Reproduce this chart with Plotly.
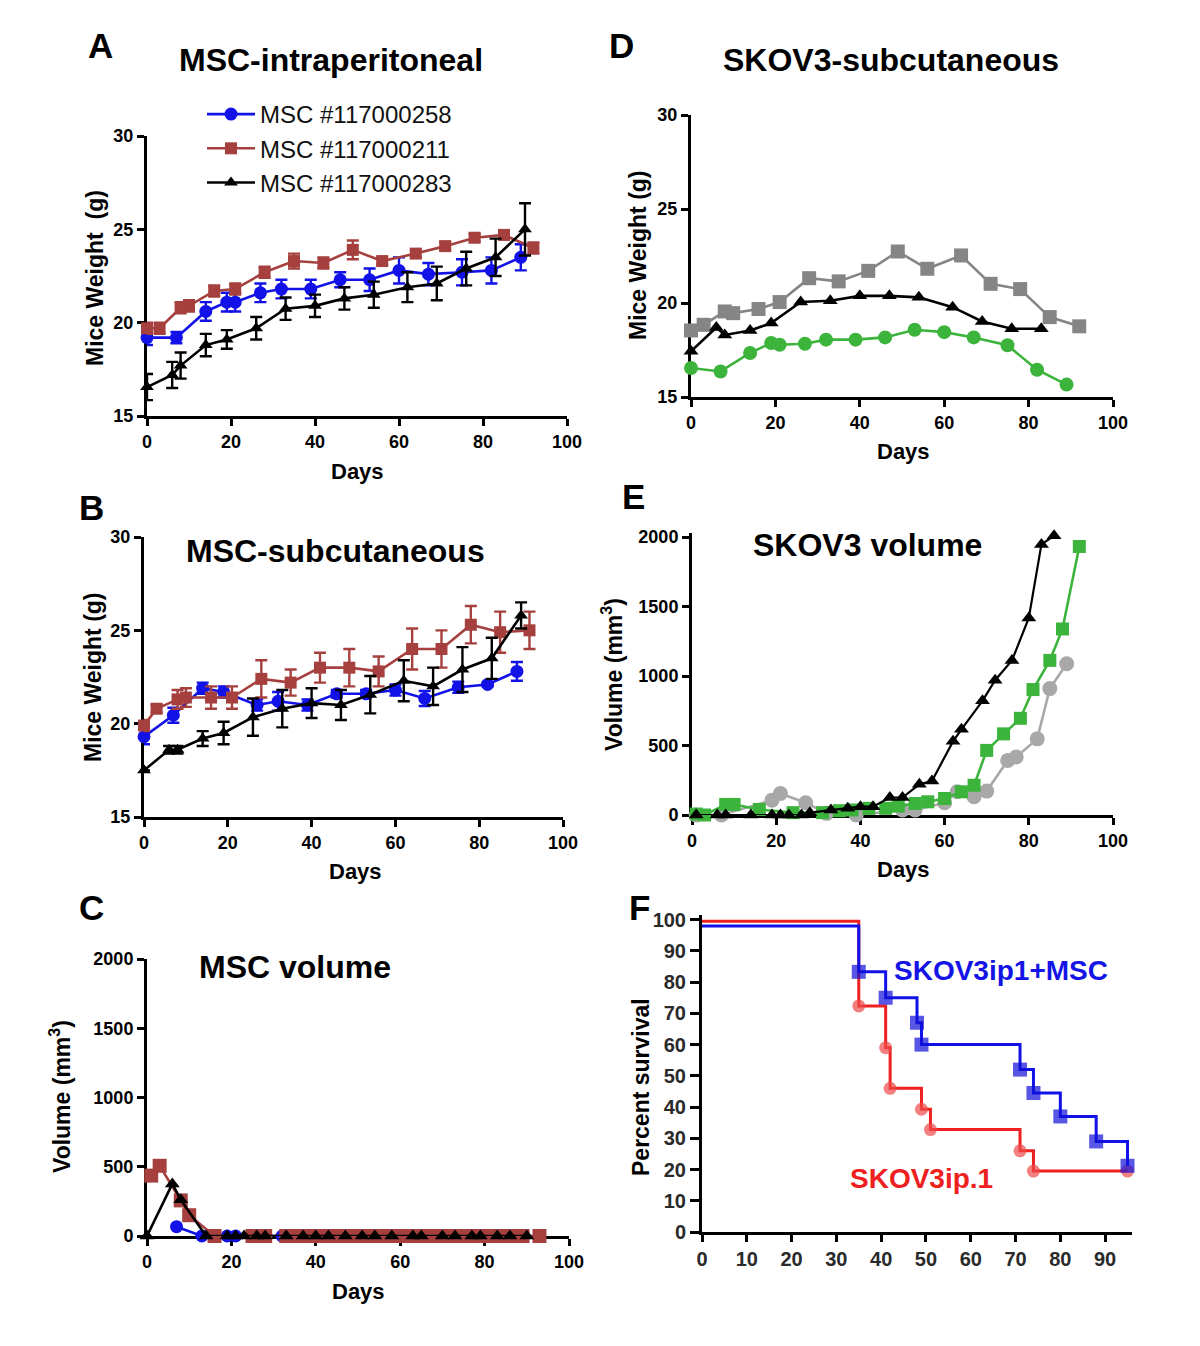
import plotly.graph_objects as go

W, H = 1200, 1346
PAGE_OFFSET = 8  # default body margin of the page

# ---------------- Panel A: MSC-intraperitoneal (weight, g) ----------------
A_blue_days = [0, 7, 14, 19, 21, 27, 32, 39, 46, 53, 60, 67, 75, 82, 89]
A_blue_w = [19.2, 19.2, 20.6, 21.1, 21.1, 21.6, 21.8, 21.8, 22.3, 22.3, 22.8, 22.6, 22.7, 22.8, 23.5]
A_blue_err = [0.4, 0.3, 0.5, 0.5, 0.5, 0.5, 0.5, 0.5, 0.4, 0.6, 0.7, 0.6, 0.7, 0.7, 0.7]

A_red_days = [0, 3, 8, 10, 16, 21, 28, 35, 42, 49, 56, 64, 71, 78, 85, 92]
A_red_w = [19.7, 19.7, 20.8, 20.9, 21.7, 21.8, 22.7, 23.3, 23.2, 23.9, 23.3, 23.7, 24.1, 24.55, 24.7, 24.0]
A_red_err = [0.3, 0.3, 0.3, 0.3, 0.3, 0.3, 0.3, 0.4, 0.3, 0.5, 0.2, 0.2, 0.2, 0.2, 0.2, 0.3]

A_blk_days = [0, 6, 8, 14, 19, 26, 33, 40, 47, 54, 62, 69, 76, 83, 90]
A_blk_w = [16.55, 17.2, 17.7, 18.8, 19.1, 19.7, 20.75, 20.9, 21.3, 21.5, 21.9, 22.1, 22.9, 23.5, 25.0]
A_blk_err = [0.7, 0.7, 0.7, 0.6, 0.5, 0.6, 0.6, 0.6, 0.6, 0.7, 0.8, 0.9, 0.9, 1.0, 1.4]

# ---------------- Panel B: MSC-subcutaneous (weight, g) ----------------
B_blue_days = [0, 7, 14, 19, 27, 32, 39, 46, 53, 60, 67, 75, 82, 89]
B_blue_w = [19.3, 20.45, 21.9, 21.7, 21.0, 21.2, 21.0, 21.6, 21.6, 21.8, 21.35, 21.95, 22.1, 22.8]
B_blue_err = [0.4, 0.4, 0.3, 0.3, 0.3, 0.5, 0.3, 0.2, 0.2, 0.3, 0.4, 0.3, 0.1, 0.5]

B_red_days = [0, 3, 8, 10, 16, 21, 28, 35, 42, 49, 56, 64, 71, 78, 85, 92]
B_red_w = [19.9, 20.8, 21.3, 21.4, 21.4, 21.4, 22.4, 22.2, 23.0, 23.0, 22.8, 24.0, 24.0, 25.3, 24.9, 25.0]
B_red_err = [0.3, 0.2, 0.5, 0.5, 0.6, 0.6, 1.0, 0.7, 0.8, 1.0, 0.8, 1.1, 1.0, 1.0, 1.1, 1.0]

B_blk_days = [0, 6, 8, 14, 19, 26, 33, 40, 47, 54, 62, 69, 76, 83, 90]
B_blk_w = [17.5, 18.6, 18.6, 19.2, 19.5, 20.35, 20.8, 21.1, 21.0, 21.55, 22.3, 22.0, 22.9, 23.5, 25.8]
B_blk_err = [0.0, 0.2, 0.2, 0.4, 0.6, 1.0, 1.0, 0.8, 0.8, 1.0, 1.1, 1.0, 1.2, 1.1, 0.7]

# ---------------- Panel C: MSC volume (mm3) ----------------
C_blue_days = [7, 13, 19, 21, 27, 32, 39, 46, 53, 61, 67, 75, 82, 89]
C_blue_vol = [67, 0, 0, 0, 0, 0, 0, 0, 0, 0, 0, 0, 0, 0]

C_red_days = [1, 3, 8, 10, 16, 25, 28, 33, 35, 37, 40, 42, 44, 47, 49, 51, 54, 56, 58,
              61, 63, 65, 68, 70, 72, 75, 77, 79, 82, 84, 86, 89, 93]
C_red_vol = [436, 507, 257, 150, 0, 0, 0, 0, 0, 0, 0, 0, 0, 0, 0, 0, 0, 0, 0,
             0, 0, 0, 0, 0, 0, 0, 0, 0, 0, 0, 0, 0, 0]

C_blk_days = [0, 6, 8, 14, 19, 21, 23, 26, 28, 33, 37, 40, 43, 47, 51, 54, 58,
              63, 65, 70, 73, 77, 79, 83, 86, 90]
C_blk_vol = [0, 376, 262, 0, 0, 0, 0, 0, 0, 0, 0, 0, 0, 0, 0, 0, 0,
             0, 0, 0, 0, 0, 0, 0, 0, 0]

# ---------------- Panel D: SKOV3-subcutaneous (weight, g) ----------------
D_gray_days = [0, 3, 8, 10, 16, 21, 28, 35, 42, 49, 56, 64, 71, 78, 85, 92]
D_gray_w = [18.54, 18.84, 19.55, 19.46, 19.68, 20.05, 21.32, 21.15, 21.71, 22.74, 21.82, 22.53, 21.02, 20.74, 19.25, 18.76]

D_blk_days = [0, 6, 8, 14, 19, 26, 33, 40, 47, 54, 62, 69, 76, 83]
D_blk_w = [17.43, 18.7, 18.3, 18.54, 18.93, 20.05, 20.12, 20.38, 20.38, 20.3, 19.78, 19.02, 18.63, 18.63]

D_grn_days = [0, 7, 14, 19, 21, 27, 32, 39, 46, 53, 60, 67, 75, 82, 89]
D_grn_w = [16.54, 16.36, 17.34, 17.87, 17.78, 17.83, 18.05, 18.05, 18.17, 18.58, 18.45, 18.17, 17.75, 16.45, 15.66]

# ---------------- Panel E: SKOV3 volume (mm3) ----------------
E_blk_days = [1, 6, 8, 14, 19, 21, 23, 26, 28, 33, 37, 40, 43, 47, 50, 54, 57, 62, 64, 69, 72, 76, 80, 83, 86]
E_blk_vol = [0, 0, 0, 0, 0, 0, 0, 0, 17, 36, 48, 60, 60, 126, 126, 221, 245, 530, 617, 822, 970, 1113, 1418, 1948, 2010]

E_grn_days = [1, 3, 8, 10, 16, 24, 31, 35, 38, 42, 46, 49, 53, 56, 60, 64, 67, 70, 74, 78, 81, 85, 88, 92]
E_grn_vol = [7, 0, 76, 76, 40, 17, 17, 31, 36, 48, 48, 64, 83, 95, 119, 167, 214, 465, 584, 696, 903, 1113, 1339, 1933]

E_gray_days = [1, 7, 19, 21, 27, 32, 39, 50, 53, 60, 63, 67, 70, 75, 77, 82, 85, 89]
E_gray_vol = [0, 0, 107, 155, 88, 12, 0, 36, 36, 88, 167, 131, 172, 393, 417, 548, 910, 1089]

# ---------------- Panel F: survival (%) ----------------
F_msc_days = [0, 35, 41, 48, 49, 71, 74, 80, 88, 95]
F_msc_surv = [98, 83.3, 75, 67, 60, 52, 44.5, 37, 29, 21.2]
F_ip_days = [0, 35, 41, 42, 49, 51, 71, 74, 95]
F_ip_surv = [99.5, 72.4, 59, 46, 39.3, 32.8, 26, 19.5, 19.5]

LEGEND_NAMES = ["MSC #117000258", "MSC #117000211", "MSC #117000283"]

BLUE = "#1212e8"
BROWN = "#a5403f"
BLACK = "#000000"
GREEN = "#3cb43c"
DGRAY = "#858585"
LGRAY = "#a8a8a8"
RED = "#ee2020"
LRED = "#ee4a4a"


def px(x):
    return (x - PAGE_OFFSET) / W


def py(y):
    return 1 - (y - PAGE_OFFSET) / H


fig = go.Figure()


def add_series(ax, days, vals, color, symbol, name=None, err=None, legend=False,
               msize=12, lw=2.6, shape="linear", marker_color=None, sizes=None):
    xa = "x" if ax == 1 else f"x{ax}"
    ya = "y" if ax == 1 else f"y{ax}"
    tr = dict(
        x=days, y=vals, mode="lines+markers", xaxis=xa, yaxis=ya,
        line=dict(color=color, width=lw, shape=shape),
        marker=dict(color=marker_color or color, symbol=symbol,
                    size=sizes if sizes is not None else msize, line=dict(width=0)),
        cliponaxis=False, showlegend=legend, name=name or "",
    )
    if err is not None:
        tr["error_y"] = dict(type="data", array=err, visible=True, color=color,
                             thickness=2.4, width=6)
    fig.add_trace(go.Scatter(**tr))


# Panel A
add_series(1, A_blue_days, A_blue_w, BLUE, "circle", LEGEND_NAMES[0], A_blue_err, True, msize=13)
add_series(1, A_red_days, A_red_w, BROWN, "square", LEGEND_NAMES[1], A_red_err, True)
add_series(1, A_blk_days, A_blk_w, BLACK, "triangle-up", LEGEND_NAMES[2], A_blk_err, True)
# Panel B
add_series(2, B_blue_days, B_blue_w, BLUE, "circle", err=B_blue_err, msize=13)
add_series(2, B_red_days, B_red_w, BROWN, "square", err=B_red_err)
add_series(2, B_blk_days, B_blk_w, BLACK, "triangle-up", err=B_blk_err)
# Panel C
add_series(3, C_blue_days, C_blue_vol, BLUE, "circle", msize=13)
add_series(3, C_red_days, C_red_vol, BROWN, "square", msize=14)
add_series(3, C_blk_days, C_blk_vol, BLACK, "triangle-up", msize=13)
# Panel D
add_series(4, D_gray_days, D_gray_w, DGRAY, "square", msize=14)
add_series(4, D_blk_days, D_blk_w, BLACK, "triangle-up", msize=13)
add_series(4, D_grn_days, D_grn_w, GREEN, "circle", msize=14)
# Panel E
add_series(5, E_gray_days, E_gray_vol, LGRAY, "circle", msize=15)
add_series(5, E_grn_days, E_grn_vol, GREEN, "square", msize=13)
add_series(5, E_blk_days, E_blk_vol, BLACK, "triangle-up", msize=13, lw=2.2)
# Panel F
add_series(6, F_ip_days, F_ip_surv, RED, "circle", msize=13, lw=3, shape="hv",
           marker_color=LRED, sizes=[0] + [13] * (len(F_ip_days) - 1))
add_series(6, F_msc_days, F_msc_surv, BLUE, "square", msize=13, lw=3, shape="hv",
           marker_color="#1010d8", sizes=[0] + [14] * (len(F_msc_days) - 1))

FAM = "Liberation Sans, Arial, sans-serif"
TICKFONT = dict(family=FAM, size=18, color="black", weight="bold")


def axis_common():
    return dict(showline=True, linewidth=3, linecolor="black", ticks="outside",
                ticklen=7, tickwidth=3, tickcolor="black", showgrid=False,
                zeroline=False, tickfont=TICKFONT, layer="below traces",
                fixedrange=True, automargin=False)


panels = {
    # ax: (x0px, x1px, ytop px, ybottom px, xrange, yrange, xticks, yticks)
    1: (147, 567, 136, 416, [0, 100], [15, 30], [0, 20, 40, 60, 80, 100], [15, 20, 25, 30]),
    2: (144, 563, 537, 817, [0, 100], [15, 30], [0, 20, 40, 60, 80, 100], [15, 20, 25, 30]),
    3: (147, 569, 959, 1236, [0, 100], [0, 2000], [0, 20, 40, 60, 80, 100], [0, 500, 1000, 1500, 2000]),
    4: (691, 1113, 115, 397, [0, 100], [15, 30], [0, 20, 40, 60, 80, 100], [15, 20, 25, 30]),
    5: (692, 1113, 533, 815, [0, 100], [0, 2030], [0, 20, 40, 60, 80, 100], [0, 500, 1000, 1500, 2000]),
    6: (702, 1132, 915, 1232, [0, 96], [0, 101.5], list(range(0, 100, 10)), list(range(0, 110, 10))),
}

layout_axes = {}
for ax, (x0, x1, yt, yb, xr, yr, xt, yt_) in panels.items():
    xname = "xaxis" if ax == 1 else f"xaxis{ax}"
    yname = "yaxis" if ax == 1 else f"yaxis{ax}"
    xa = axis_common()
    ya = axis_common()
    xa.update(domain=[px(x0), px(x1)], range=xr, tickvals=xt,
              anchor="y" if ax == 1 else f"y{ax}")
    ya.update(domain=[py(yb), py(yt)], range=yr, tickvals=yt_,
              anchor="x" if ax == 1 else f"x{ax}")
    if ax == 6:
        f6 = dict(family="Liberation Sans Narrow, Arial Narrow, Liberation Sans, sans-serif",
                  size=20, color="#2a2a2a", weight="bold")
        xa["tickfont"] = f6
        ya["tickfont"] = f6
        ya["ticklen"] = 9
    layout_axes[xname] = xa
    layout_axes[yname] = ya

annotations = []


def text(x, y, s, size, color="black", angle=0, bold=True, xanchor="center"):
    annotations.append(dict(
        x=px(x), y=py(y), xref="paper", yref="paper", text=s,
        showarrow=False,
        font=dict(family=FAM, size=size, color=color, weight="bold" if bold else "normal"),
        textangle=angle, xanchor=xanchor, yanchor="middle"))


# panel letters
for lbl, x, y in [("A", 100, 45), ("B", 91, 507), ("C", 91, 908),
                  ("D", 621, 45), ("E", 634, 496), ("F", 639, 908)]:
    text(x, y, lbl, 35)

# titles
text(331, 60, "MSC-intraperitoneal", 32)
text(335, 551, "MSC-subcutaneous", 32)
text(295, 967, "MSC volume", 32)
text(891, 60, "SKOV3-subcutaneous", 32)
text(867, 545, "SKOV3 volume", 32)
text(1001, 970, "SKOV3ip1+MSC", 28, color="#1414e6")
text(921, 1178, "SKOV3ip.1", 28, color=RED)

# x titles
for x, y in [(357, 471), (355, 871), (358, 1291), (903, 452), (903, 870)]:
    text(x, y, "Days", 22)

# y titles
text(95, 278, "Mice Weight  (g)", 23, angle=-90)
text(93, 677, "Mice Weight (g)", 23, angle=-90)
text(60, 1097, "Volume (mm<sup>3</sup>)", 23, angle=-90)
text(638, 255, "Mice Weight (g)", 23, angle=-90)
text(612, 675, "Volume (mm<sup>3</sup>)", 23, angle=-90)
text(641, 1087, "Percent survival", 23, angle=-90)

fig.update_layout(
    width=W, height=H, margin=dict(l=0, r=0, t=0, b=0, pad=0, autoexpand=False),
    paper_bgcolor="white", plot_bgcolor="white",
    annotations=annotations,
    legend=dict(x=px(202), y=py(92), xanchor="left", yanchor="top",
                font=dict(family=FAM, size=24, color="#111"),
                bgcolor="rgba(0,0,0,0)", itemwidth=48, tracegroupgap=0),
    **layout_axes,
)

fig.write_html("out.html")
